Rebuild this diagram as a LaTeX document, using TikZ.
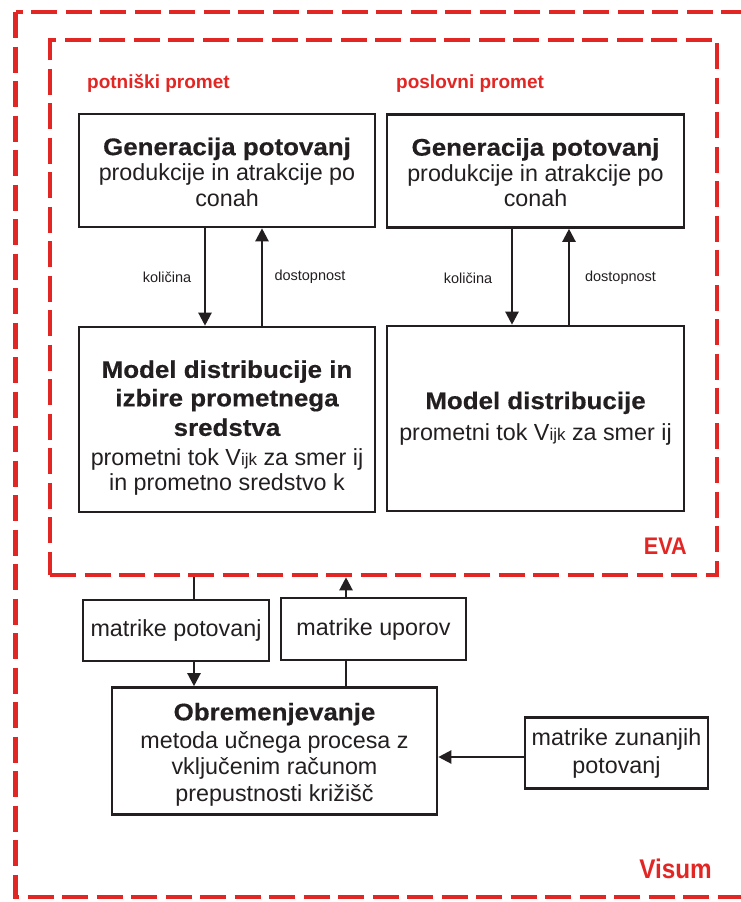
\documentclass[tikz,border=0pt]{standalone}
\usepackage{fontspec}
\setmainfont{Liberation Sans}
\newfontfamily\headfont{Liberation Sans Bold}[FakeStretch=1.08,FakeBold=0.5]
\newfontfamily\tagfont{Liberation Sans Bold}
\newfontfamily\frametagfont{Liberation Sans Bold}[FakeStretch=0.9]
\usetikzlibrary{arrows.meta}

\definecolor{evared}{RGB}{226,38,36}
\definecolor{ink}{RGB}{35,31,32}

\tikzset{
  procbox/.style={draw=ink, line width=2.6pt, align=center, inner sep=0pt, text=ink,
    font=\fontsize{23.3}{25.5}\selectfont},
  flow/.style={draw=ink, line width=2.3pt, -{Triangle[length=13pt,width=13pt]}},
  joinline/.style={draw=ink, line width=2.3pt},
  frame/.style={draw=evared, line width=4.6pt, dash pattern=on 26pt off 8.5pt, inner sep=0pt},
  qlabel/.style={text=ink, inner sep=0pt, font=\fontsize{14.5}{16}\selectfont},
  redtag/.style={text=evared, inner sep=0pt},
}
\newcommand{\boxhead}[1]{{\headfont\fontsize{24}{26}\selectfont #1}}
\newcommand{\vijk}{V{\fontsize{17}{17}\selectfont ijk}}

\begin{document}
\begin{tikzpicture}[x=1pt,y=1pt,yscale=-1]
\useasboundingbox (0,0) rectangle (741,902);
\clip (0,0) rectangle (741,902);

% frames
\draw[frame] (15.5,12) rectangle (790,897);
\node[frame, minimum width=667pt, minimum height=535pt] (eva) at (383.5,307.5) {};

% Text Node
\node[redtag, anchor=base west, font=\tagfont\fontsize{19}{19}\selectfont] (tagA) at (87,88) {potniški promet};
\node[redtag, anchor=base west, font=\tagfont\fontsize{19}{19}\selectfont] (tagB) at (396,88) {poslovni promet};
\node[redtag, anchor=base east, font=\frametagfont\fontsize{24}{24}\selectfont] (evatag) at (687,554) {EVA};
\node[redtag, anchor=base east, font=\frametagfont\fontsize{27}{27}\selectfont] (visumtag) at (712,878) {Visum};

% potniski promet
\node[procbox, minimum width=296pt, minimum height=113pt] (genA) at (227,170.5)
  {\\[-5pt] \boxhead{Generacija potovanj}\\ produkcije in atrakcije po\\ conah};
\node[procbox, minimum width=296pt, minimum height=185pt] (distA) at (227,419.5)
  {\\[9pt] \boxhead{Model distribucije in}\\[3pt] \boxhead{izbire prometnega}\\[4pt]
   \boxhead{sredstva}\\[4pt] prometni tok \vijk{} za smer ij\\ in prometno sredstvo k};
\draw[flow] ([xshift=-22pt]genA.south) -- ([xshift=-22pt]genA.south |- distA.north);
\draw[flow] ([xshift=35pt]distA.north) -- ([xshift=35pt]distA.north |- genA.south);
\node[qlabel] (qA) at (167,277) {količina};
\node[qlabel] (dA) at (310,277) {dostopnost};

% poslovni promet
\node[procbox, minimum width=297pt, minimum height=113pt] (genB) at (535.5,171)
  {\\[-5pt] \boxhead{Generacija potovanj}\\ produkcije in atrakcije po\\ conah};
\node[procbox, minimum width=297pt, minimum height=185pt] (distB) at (535.5,418.5)
  {\boxhead{Model distribucije}\\[6pt] prometni tok \vijk{} za smer ij};
\draw[flow] ([xshift=-23.5pt]genB.south) -- ([xshift=-23.5pt]genB.south |- distB.north);
\draw[flow] ([xshift=33.5pt]distB.north) -- ([xshift=33.5pt]distB.north |- genB.south);
\node[qlabel] (qB) at (468,278) {količina};
\node[qlabel] (dB) at (620.5,278) {dostopnost};

% Visum
\node[procbox, minimum width=186pt, minimum height=61pt] (matP) at (176,630.5) {matrike potovanj};
\node[procbox, minimum width=185pt, minimum height=62pt] (matU) at (373.5,629) {matrike uporov};
\node[procbox, minimum width=325pt, minimum height=127pt] (obrem) at (274.5,751)
  {\\[-1pt] \boxhead{Obremenjevanje}\\[3pt] metoda učnega procesa z\\[0.5pt] vključenim računom\\[1pt] prepustnosti križišč};
\node[procbox, minimum width=183pt, minimum height=71pt] (matZ) at (616.5,753)
  {matrike zunanjih\\[2.5pt] potovanj};

\coordinate (potX) at (194,0);
\coordinate (uporX) at (346,0);
\draw[joinline] (potX |- eva.south) -- (potX |- matP.north);
\draw[flow] (potX |- matP.south) -- (potX |- obrem.north);
\draw[joinline] (uporX |- obrem.north) -- (uporX |- matU.south);
\draw[flow] (uporX |- matU.north) -- (uporX |- eva.south);
\draw[flow] ([yshift=4pt]matZ.west) -- ([yshift=4pt]matZ.west -| obrem.east);

\end{tikzpicture}
\end{document}
